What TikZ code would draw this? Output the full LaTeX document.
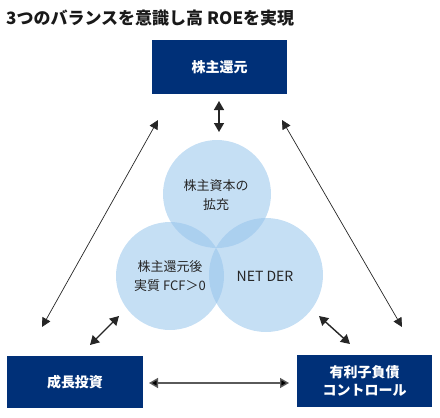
\documentclass[tikz,border=0pt]{standalone}
\usepackage{fontspec}
\setmainfont{Noto Sans CJK JP}
\usetikzlibrary{arrows.meta}
\definecolor{navy}{RGB}{0,48,120}
\definecolor{cblue}{RGB}{150,196,235}
\definecolor{arrgray}{RGB}{90,90,90}
\begin{document}
\begin{tikzpicture}[x=1pt,y=-1pt,
  box/.style={fill=navy, draw=none, inner sep=0pt, text=white, font=\fontsize{14}{18.5}\selectfont\bfseries, align=center},
  circ/.style={circle, fill=cblue, fill opacity=0.55, draw=none, text opacity=1, inner sep=0pt},
  ctext/.style={font=\fontsize{13}{18.5}\selectfont, align=center, text=black!85},
  thinarr/.style={{Triangle[length=9pt,width=9pt]}-{Triangle[length=9pt,width=9pt]}, line width=0.7pt, draw=black!85},
  thickarr/.style={{Triangle[length=9pt,width=10pt]}-{Triangle[length=9pt,width=10pt]}, line width=1.4pt, draw=black!85}
]
\useasboundingbox (0,0) rectangle (440,418);
% title
\node[anchor=west, font=\fontsize{17}{19}\selectfont\bfseries, text=black!90, inner sep=0pt] (title) at (6,18) {3つのバランスを意識し高 ROEを実現};
% boxes
\node[box, minimum width=135pt, minimum height=54pt] (top) at (219.5,67) {株主還元};
\node[box, minimum width=136pt, minimum height=52pt] (bl) at (75,382) {成長投資};
\node[box, minimum width=135pt, minimum height=52pt] (br) at (364.5,381) {有利子負債\\コントロール};
% circles
\node[circ, minimum size=108pt] (c1) at (217,194) {};
\node[circ, minimum size=108pt] (c2) at (170,276) {};
\node[circ, minimum size=114pt] (c3) at (266,275) {};
\node[ctext] (t1) at (216,195) {株主資本の\\拡充};
\node[ctext] (t2) at (170,276) {株主還元後\\実質 FCF＞0};
\node[ctext, font=\fontsize{14}{16}\selectfont] (t3) at (265,276) {NET DER};
% coordinates for arrows
\coordinate (a1) at (219,101);
\coordinate (a2) at (219,132);
\coordinate (l1) at (158,120);
\coordinate (l2) at (42,327);
\coordinate (r1) at (282,120);
\coordinate (r2) at (402,327);
\coordinate (s1) at (90,345);
\coordinate (s2) at (119,316);
\coordinate (s3) at (319,316);
\coordinate (s4) at (350,344);
\coordinate (h1) at (149,383);
\coordinate (h2) at (289,383);
\draw[thickarr] (a1) -- (a2);
\draw[thinarr] (l1) -- (l2);
\draw[thinarr] (r1) -- (r2);
\draw[thickarr] (s1) -- (s2);
\draw[thickarr] (s3) -- (s4);
\draw[thickarr, draw=arrgray, {Triangle[length=9pt,width=10pt,fill=black]}-{Triangle[length=9pt,width=10pt,fill=black]}] (h1) -- (h2);
\end{tikzpicture}
\end{document}
